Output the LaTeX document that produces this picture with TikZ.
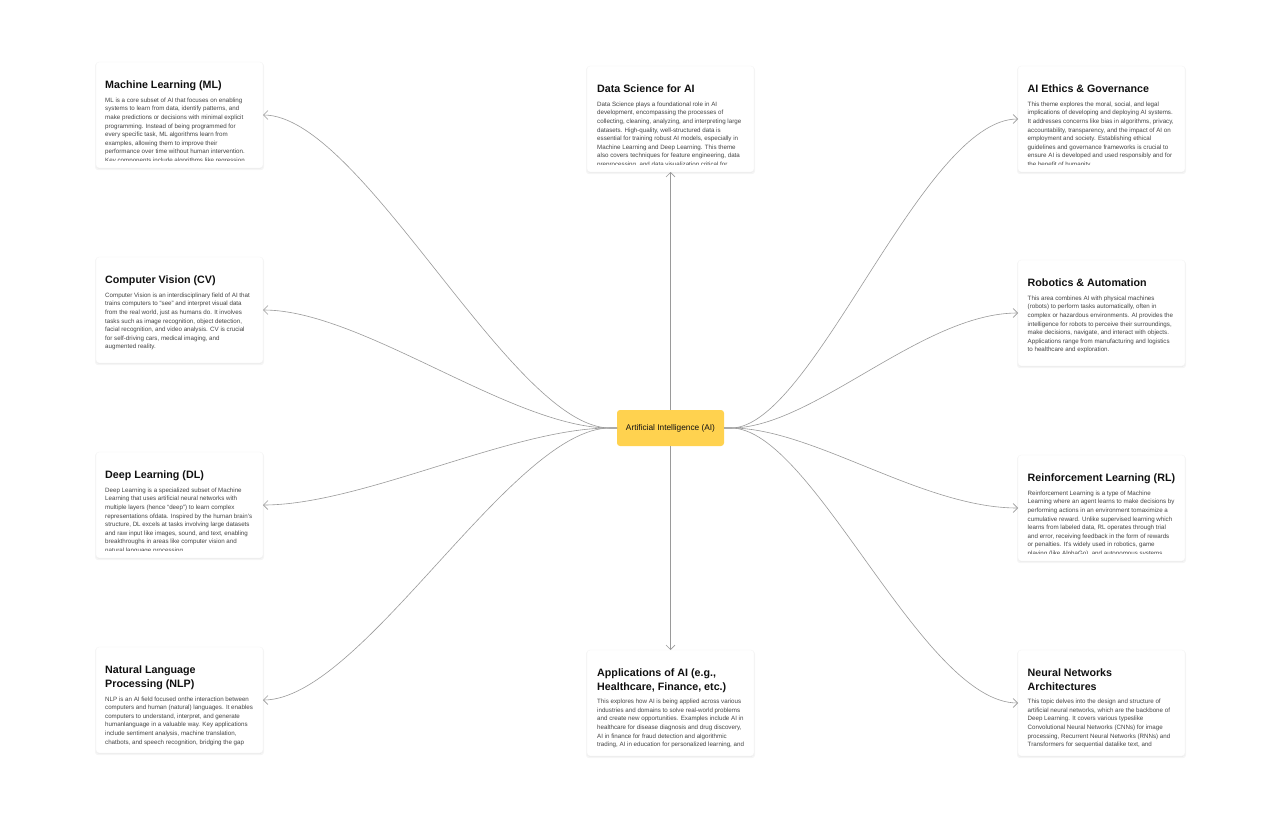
\documentclass[tikz,border=0pt]{standalone}
\usepackage{fontspec}
\setmainfont{Liberation Sans}
\usetikzlibrary{arrows.meta}
\usetikzlibrary{positioning}
\usetikzlibrary{shadows}
\definecolor{linkgray}{HTML}{9A9A9A}
\definecolor{titleink}{HTML}{111111}
\definecolor{bodyink}{HTML}{444444}
\definecolor{aiyellow}{HTML}{FFD24F}
\begin{document}
\begin{tikzpicture}[x=1pt,y=-1pt,
  card/.style={rectangle,rounded corners=3pt,fill=white,draw=black!4,line width=.4pt,minimum width=167pt,minimum height=106pt,inner sep=0pt,outer sep=0pt,drop shadow={shadow xshift=0pt,shadow yshift=-1.5pt,shadow scale=1.012,opacity=.04,fill=black},drop shadow={shadow xshift=0pt,shadow yshift=-.7pt,opacity=.06,fill=black}},
  cardtitle/.style={inner sep=0pt,align=left,text=titleink,font=\fontsize{10.7}{14}\selectfont\bfseries},
  cardbody/.style={inner sep=0pt,align=left,text=bodyink,font=\fontsize{6.2}{8.6}\selectfont},
  link/.style={draw=linkgray,line width=.6pt,-{Straight Barb[length=4.5pt,width=9pt]}}]
  \useasboundingbox[fill=white] (0,0) rectangle (1280,816);

  \node[card] (ml) at (179.5,115) {};
  \node[card] (cv) at (179.5,310) {};
  \node[card] (dl) at (179.5,505) {};
  \node[card] (nlp) at (179.5,700) {};
  \node[card] (ds) at (670.5,119) {};
  \node[card] (apps) at (670.5,703) {};
  \node[card] (ethics) at (1101.5,119) {};
  \node[card] (robotics) at (1101.5,313) {};
  \node[card] (rl) at (1101.5,508) {};
  \node[card] (nn) at (1101.5,703) {};
  \node[rectangle,rounded corners=3pt,fill=aiyellow,minimum width=107pt,minimum height=36pt,inner sep=0pt,outer sep=0pt,text=titleink,font=\fontsize{8.3}{10}\selectfont] (ai) at (670.5,428) {Artificial Intelligence (AI)};
  \coordinate (leftfork) at (610,428);
  \coordinate (rightfork) at (731,428);

  \node[cardtitle,below right=19pt and 9pt of ml.north west] (mltitle) {Machine Learning (ML)};
  \node[cardtitle,below right=19pt and 9pt of cv.north west] (cvtitle) {Computer Vision (CV)};
  \node[cardtitle,below right=19pt and 9pt of dl.north west] (dltitle) {Deep Learning (DL)};
  \node[cardtitle,below right=19pt and 9pt of nlp.north west] (nlptitle) {Natural Language\\Processing (NLP)};
  \node[cardtitle,below right=19pt and 10pt of ds.north west] (dstitle) {Data Science for AI};
  \node[cardtitle,below right=19pt and 10pt of apps.north west] (appstitle) {Applications of AI (e.g.,\\Healthcare, Finance, etc.)};
  \node[cardtitle,below right=19pt and 9.5pt of ethics.north west] (ethicstitle) {AI Ethics \& Governance};
  \node[cardtitle,below right=19pt and 9.5pt of robotics.north west] (roboticstitle) {Robotics \& Automation};
  \node[cardtitle,below right=19pt and 9.5pt of rl.north west] (rltitle) {Reinforcement Learning (RL)};
  \node[cardtitle,below right=19pt and 9.5pt of nn.north west] (nntitle) {Neural Networks\\Architectures};

  \begin{scope}
    \clip (96,62) rectangle (263,160.5);
    \node[cardbody,below right=35.7pt and 9pt of ml.north west] (mlbody) {ML is a core subset of AI that focuses on enabling\\systems to learn from data, identify patterns, and\\make predictions or decisions with minimal explicit\\programming. Instead of being programmed for\\every specific task, ML algorithms learn from\\examples, allowing them to improve their\\performance over time without human intervention.\\Key components include algorithms like regression,};
  \end{scope}
  \node[cardbody,below right=35.7pt and 9pt of cv.north west] (cvbody) {Computer Vision is an interdisciplinary field of AI that\\trains computers to ``see'' and interpret visual data\\from the real world, just as humans do. It involves\\tasks such as image recognition, object detection,\\facial recognition, and video analysis. CV is crucial\\for self-driving cars, medical imaging, and\\augmented reality.};
  \begin{scope}
    \clip (96,451) rectangle (263,550);
    \node[cardbody,below right=35.7pt and 9pt of dl.north west] (dlbody) {Deep Learning is a specialized subset of Machine\\Learning that uses artificial neural networks with\\multiple layers (hence ``deep'') to learn complex\\representations ofdata. Inspired by the human brain's\\structure, DL excels at tasks involving large datasets\\and raw input like images, sound, and text, enabling\\breakthroughs in areas like computer vision and\\natural language processing.};
  \end{scope}
  \begin{scope}
    \clip (96,646) rectangle (263,745);
    \node[cardbody,below right=49.5pt and 9pt of nlp.north west] (nlpbody) {NLP is an AI field focused onthe interaction between\\computers and human (natural) languages. It enables\\computers to understand, interpret, and generate\\humanlanguage in a valuable way. Key applications\\include sentiment analysis, machine translation,\\chatbots, and speech recognition, bridging the gap};
  \end{scope}
  \begin{scope}
    \clip (587,66) rectangle (754,164);
    \node[cardbody,below right=35.7pt and 10pt of ds.north west] (dsbody) {Data Science plays a foundational role in AI\\development, encompassing the processes of\\collecting, cleaning, analyzing, and interpreting large\\datasets. High-quality, well-structured data is\\essential for training robust AI models, especially in\\Machine Learning and Deep Learning. This theme\\also covers techniques for feature engineering, data\\preprocessing, and data visualization critical for};
  \end{scope}
  \begin{scope}
    \clip (587,650) rectangle (754,747);
    \node[cardbody,below right=49pt and 10pt of apps.north west] (appsbody) {This explores how AI is being applied across various\\industries and domains to solve real-world problems\\and create new opportunities. Examples include AI in\\healthcare for disease diagnosis and drug discovery,\\AI in finance for fraud detection and algorithmic\\trading, AI in education for personalized learning, and};
  \end{scope}
  \begin{scope}
    \clip (1018,66) rectangle (1185,164);
    \node[cardbody,below right=35.7pt and 9.5pt of ethics.north west] (ethicsbody) {This theme explores the moral, social, and legal\\implications of developing and deploying AI systems.\\It addresses concerns like bias in algorithms, privacy,\\accountability, transparency, and the impact of AI on\\employment and society. Establishing ethical\\guidelines and governance frameworks is crucial to\\ensure AI is developed and used responsibly and for\\the benefit of humanity.};
  \end{scope}
  \node[cardbody,below right=35.7pt and 9.5pt of robotics.north west] (roboticsbody) {This area combines AI with physical machines\\(robots) to perform tasks automatically, often in\\complex or hazardous environments. AI provides the\\intelligence for robots to perceive their surroundings,\\make decisions, navigate, and interact with objects.\\Applications range from manufacturing and logistics\\to healthcare and exploration.};
  \begin{scope}
    \clip (1018,455) rectangle (1185,553);
    \node[cardbody,below right=35.7pt and 9.5pt of rl.north west] (rlbody) {Reinforcement Learning is a type of Machine\\Learning where an agent learns to make decisions by\\performing actions in an environment tomaximize a\\cumulative reward. Unlike supervised learning which\\learns from labeled data, RL operates through trial\\and error, receiving feedback in the form of rewards\\or penalties. It's widely used in robotics, game\\playing (like AlphaGo), and autonomous systems.};
  \end{scope}
  \begin{scope}
    \clip (1018,650) rectangle (1185,748);
    \node[cardbody,below right=49pt and 9.5pt of nn.north west] (nnbody) {This topic delves into the design and structure of\\artificial neural networks, which are the backbone of\\Deep Learning. It covers various typeslike\\Convolutional Neural Networks (CNNs) for image\\processing, Recurrent Neural Networks (RNNs) and\\Transformers for sequential datalike text, and};
  \end{scope}

  \draw[link] (ai.west) -- (leftfork) .. controls (512,428) and (362,115) .. (ml.east);
  \draw[link] (ai.west) -- (leftfork) .. controls (512,428) and (362,310) .. (cv.east);
  \draw[link] (ai.west) -- (leftfork) .. controls (512,428) and (362,505) .. (dl.east);
  \draw[link] (ai.west) -- (leftfork) .. controls (512,428) and (362,700) .. (nlp.east);
  \draw[link] (ai.north) -- (ds.south);
  \draw[link] (ai.south) -- (apps.north);
  \draw[link] (ai.east) -- (rightfork) .. controls (813,428) and (922,119) .. (ethics.west);
  \draw[link] (ai.east) -- (rightfork) .. controls (813,428) and (922,313) .. (robotics.west);
  \draw[link] (ai.east) -- (rightfork) .. controls (813,428) and (922,508) .. (rl.west);
  \draw[link] (ai.east) -- (rightfork) .. controls (813,428) and (922,703) .. (nn.west);
\end{tikzpicture}
\end{document}
